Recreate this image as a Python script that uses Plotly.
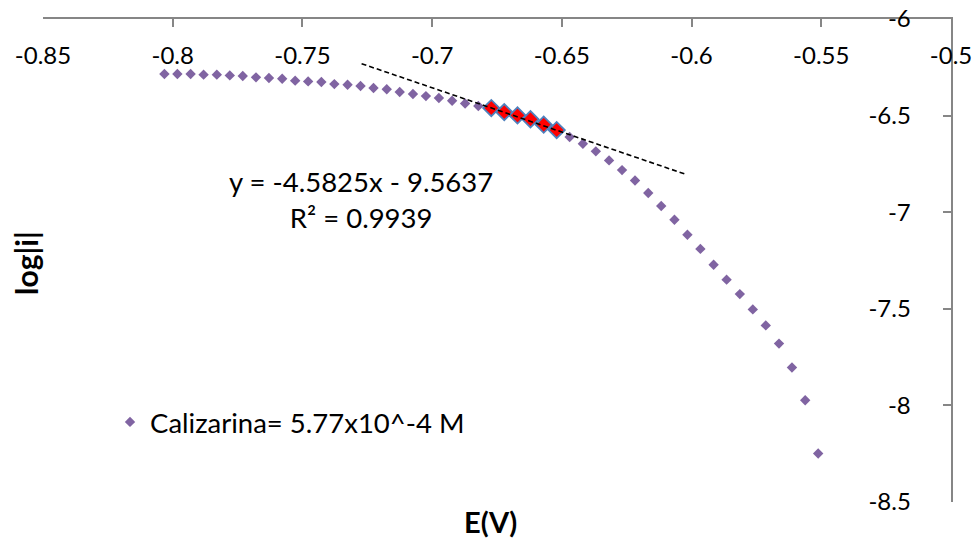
import plotly.graph_objects as go

# Cathodic branch: potential E (V) and log|i|
potential_v = [
    -0.8032, -0.7982, -0.7931, -0.7881, -0.7830, -0.7780, -0.7730, -0.7679,
    -0.7629, -0.7578, -0.7528, -0.7478, -0.7427, -0.7377, -0.7326, -0.7276,
    -0.7226, -0.7175, -0.7125, -0.7074, -0.7024, -0.6974, -0.6923, -0.6873,
    -0.6822, -0.6772, -0.6722, -0.6671, -0.6621, -0.6570, -0.6520, -0.6470,
    -0.6419, -0.6369, -0.6318, -0.6268, -0.6218, -0.6167, -0.6117, -0.6066,
    -0.6016, -0.5966, -0.5915, -0.5865, -0.5814, -0.5764, -0.5714, -0.5663,
    -0.5613, -0.5562, -0.5512,
]
log_current = [
    -6.285, -6.285, -6.285, -6.288, -6.288, -6.292, -6.295, -6.302,
    -6.305, -6.309, -6.319, -6.323, -6.326, -6.337, -6.340, -6.347,
    -6.357, -6.364, -6.378, -6.388, -6.399, -6.409, -6.423, -6.437,
    -6.450, -6.461, -6.482, -6.499, -6.519, -6.547, -6.575, -6.611,
    -6.646, -6.685, -6.732, -6.782, -6.836, -6.901, -6.968, -7.039,
    -7.117, -7.190, -7.272, -7.349, -7.424, -7.503, -7.586, -7.680,
    -7.804, -7.973, -8.249,
]

# Points selected for the linear (Tafel) fit
fit_start, fit_stop = 25, 31
fit_potential_v = potential_v[fit_start:fit_stop]
fit_log_current = log_current[fit_start:fit_stop]

# Fit results shown on the chart
slope = -4.5825
intercept = -9.5637
r_squared = 0.9939
forecast_v = 0.05  # trendline extended both ways beyond the fitted points

series_name = "Calizarina= 5.77x10^-4 M"

x_tick_vals = [-0.85, -0.8, -0.75, -0.7, -0.65, -0.6, -0.55, -0.5]
x_tick_text = ["-0.85", "-0.8", "-0.75", "-0.7", "-0.65", "-0.6", "-0.55", "-0.5"]
y_tick_vals = [-6, -6.5, -7, -7.5, -8, -8.5]
y_tick_text = ["-6", "-6.5", "-7", "-7.5", "-8", "-8.5"]

FONT = "Lato"
PURPLE = "#8064A2"
AXIS_GREY = "#868686"

trend_x = [min(fit_potential_v) - forecast_v, max(fit_potential_v) + forecast_v]
trend_y = [slope * v + intercept for v in trend_x]

fig = go.Figure()

fig.add_trace(go.Scatter(
    x=potential_v, y=log_current, mode="markers", name=series_name,
    marker=dict(symbol="diamond", size=8, color=PURPLE, line=dict(width=0)),
))
fig.add_trace(go.Scatter(
    x=fit_potential_v, y=fit_log_current, mode="markers", showlegend=False,
    marker=dict(symbol="diamond", size=12.5, color="#FF0000",
                line=dict(width=1.8, color="#4F81BD")),
))
fig.add_trace(go.Scatter(
    x=trend_x, y=trend_y, mode="lines", showlegend=False,
    line=dict(color="black", width=1.6, dash="5px,3px"),
))

fig.add_annotation(
    x=-0.7274, y=-6.935, xref="x", yref="y",
    text=f"y = {slope}x - {abs(intercept)}<br>R² = {r_squared}",
    showarrow=False, align="center",
    font=dict(family=FONT, size=27.5, color="black"),
)
fig.add_annotation(
    x=0.493, y=-0.0414, xref="paper", yref="paper",
    xanchor="center", yanchor="middle",
    text="<b>E(V)</b>", showarrow=False,
    font=dict(family=FONT, size=29, color="black"),
)
fig.add_annotation(
    x=-0.0187, y=0.495, xref="paper", yref="paper",
    xanchor="center", yanchor="middle",
    text="<b>log|i|</b>", textangle=-90, showarrow=False,
    font=dict(family=FONT, size=30, color="black"),
)

fig.update_xaxes(
    range=[-0.85, -0.5], side="top", showgrid=False, zeroline=False,
    showline=True, linecolor=AXIS_GREY, linewidth=2, automargin=False,
    ticks="inside", ticklen=8, tickwidth=2, tickcolor=AXIS_GREY,
    ticklabelposition="inside", ticklabeloverflow="allow",
    ticklabelstandoff=22,
    tickvals=x_tick_vals, ticktext=x_tick_text,
    tickfont=dict(family=FONT, size=24, color="black"),
)
fig.update_yaxes(
    range=[-8.5, -6], side="right", showgrid=False, zeroline=False,
    showline=True, linecolor=AXIS_GREY, linewidth=2, automargin=False,
    ticks="inside", ticklen=8, tickwidth=2, tickcolor=AXIS_GREY,
    ticklabelposition="inside", ticklabeloverflow="allow",
    ticklabelstandoff=34,
    tickvals=y_tick_vals, ticktext=y_tick_text,
    tickfont=dict(family=FONT, size=24, color="black"),
)

fig.update_layout(
    width=974, height=541, autosize=False,
    margin=dict(l=43, r=23, t=19, b=39, pad=0),
    paper_bgcolor="white", plot_bgcolor="white",
    showlegend=True,
    legend=dict(
        x=0.0738, y=0.1656, xanchor="left", yanchor="middle",
        bgcolor="rgba(0,0,0,0)", borderwidth=0, itemwidth=30,
        font=dict(family=FONT, size=27.5, color="black"),
    ),
)

fig.write_html("out.html")
